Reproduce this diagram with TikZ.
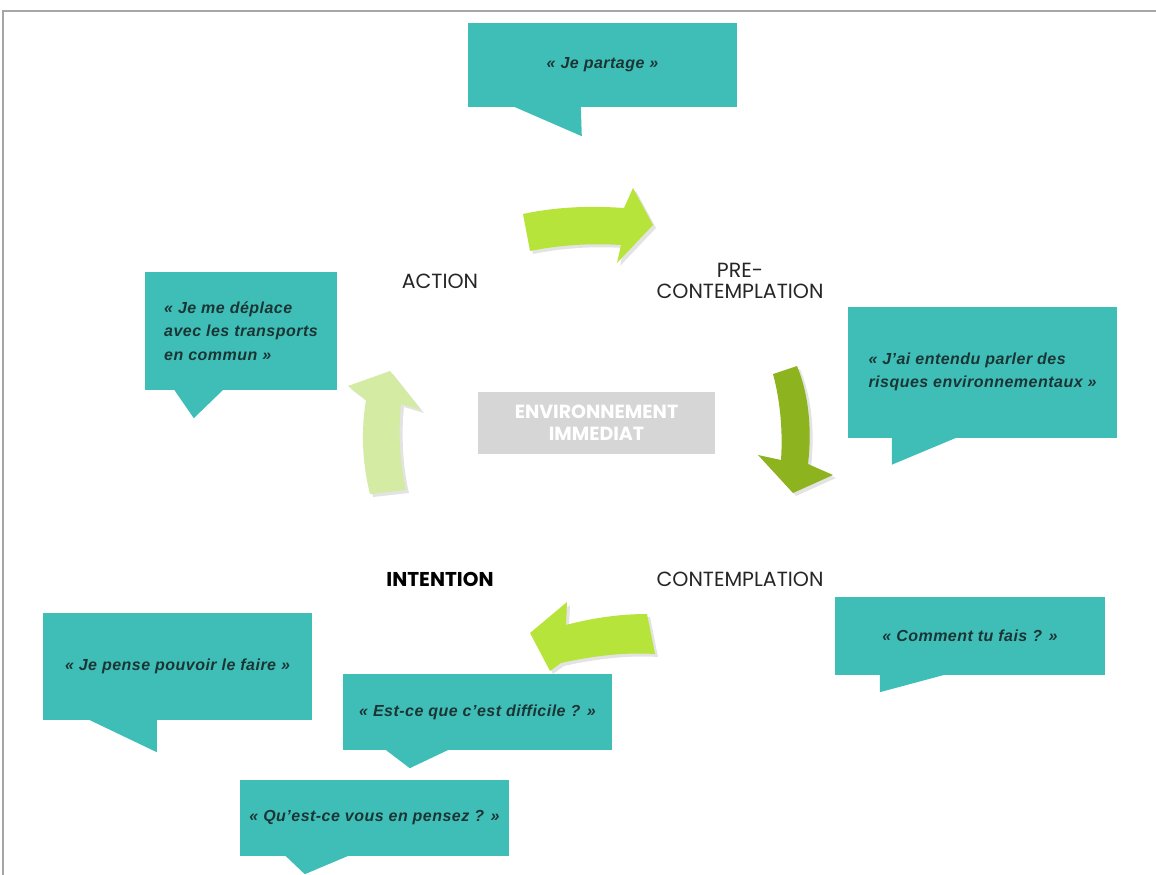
\documentclass[tikz,border=0pt]{standalone}
\usepackage{fontspec}
\setmainfont{Poppins}
\newfontfamily\bullefont[LetterSpace=3]{Liberation Sans}
\usetikzlibrary{shadows}

\definecolor{turquoise}{HTML}{3FBEB8}
\definecolor{textebulle}{HTML}{1B3534}
\definecolor{citron}{HTML}{B6E43A}
\definecolor{olive}{HTML}{8DB41F}
\definecolor{pistache}{HTML}{D3EBA2}
\definecolor{gris}{HTML}{D6D6D6}

\tikzset{
    bulle/.style={fill=turquoise, inner sep=0pt, text=textebulle, align=center,
        font=\bullefont\bfseries\itshape\fontsize{16}{23.5}\selectfont},
    etape/.style={text=black!85, align=center, font=\fontsize{20.5}{21}\selectfont},
    fleche/.style={drop shadow={shadow xshift=3pt, shadow yshift=-3pt, opacity=0.22}},
}

\begin{document}
\begin{tikzpicture}[x=1pt,y=-1pt]
        \useasboundingbox (0,0) rectangle (1156,875);
        % page frame
        \draw[black!35,line width=1.5pt] (3,875) -- (3,11) -- (1156,11);
        %
        % Block arrows of the cycle
        \fill[citron,fleche] (530,251) -- (523,214) .. controls (560,206) and (595,206) .. (624,208)
            -- (633,188) -- (653,225) -- (617,263) -- (621,245) .. controls (590,243) and (560,245) .. cycle;
        \fill[olive,fleche] (773,374) -- (797,366) .. controls (809,395) and (812,430) .. (808,464)
            -- (833,475) -- (793,493) -- (758,455) -- (781,460) .. controls (783,430) and (780,400) .. cycle;
        \fill[citron,fleche] (647,614) -- (655,654) .. controls (625,652) and (592,656) .. (561,663)
            -- (550,671) -- (530,633) -- (567,602) -- (566,625) .. controls (592,618) and (620,614) .. cycle;
        \fill[pistache,fleche] (370,494) .. controls (362,462) and (361,430) .. (366,400)
            -- (348,386) -- (390,371) -- (421,410) -- (401,404) .. controls (398,432) and (400,465) .. (406,490) -- cycle;
        %
        % Stages
        \node[etape] (action) at (440,281) {ACTION};
        \node[etape] (precontemplation) at (740,281) {PRE-\\CONTEMPLATION};
        \node[etape] (contemplation) at (740,579) {CONTEMPLATION};
        \node[etape,font=\bfseries\fontsize{20}{21}\selectfont,text=black] (intention) at (440,579) {INTENTION};
        \node[fill=gris, text=white, minimum width=237pt, minimum height=62pt, align=center,
            font=\bfseries\fontsize{19}{22}\selectfont] (environnement) at (596.5,423) {ENVIRONNEMENT\\IMMEDIAT};
        %
        % Speech bubbles
        \node[bulle, minimum width=269pt, minimum height=84pt] (partage) at (602.5,65) {« Je partage »};
        \node[bulle, minimum width=192pt, minimum height=118pt, align=left] (deplace) at (241,331)
            {« Je me déplace\\avec les transports\\en commun »};
        \node[bulle, minimum width=269pt, minimum height=131pt, align=left] (entendu) at (982.5,372)
            {« J’ai entendu parler des\\risques environnementaux »};
        \node[bulle, minimum width=270pt, minimum height=78pt] (comment) at (970,636) {« Comment tu fais ? »};
        \node[bulle, minimum width=269pt, minimum height=107pt] (pense) at (177.5,666.5) {« Je pense pouvoir le faire »};
        \node[bulle, minimum width=269pt, minimum height=76pt] (difficile) at (477.5,712) {« Est-ce que c’est difficile ? »};
        \node[bulle, minimum width=269pt, minimum height=76pt] (pensez) at (374.5,818) {« Qu’est-ce vous en pensez ? »};
        % tails: left base, tip x, tip depth, right base (from south west)
        \foreach \b/\l/\tx/\ty/\r in {partage/45/114/29/113, deplace/29/49/28/79, entendu/44/44/27/111,
            comment/45/45/17/112, pense/45/114/32/114, difficile/42/67/18/107, pensez/45/65/18/110}
            \fill[turquoise] ([xshift=\l pt,yshift=1pt]\b.south west) -- ([xshift=\tx pt,yshift=-\ty pt]\b.south west)
                -- ([xshift=\r pt,yshift=1pt]\b.south west) -- cycle;
        %
    \end{tikzpicture}
\end{document}
